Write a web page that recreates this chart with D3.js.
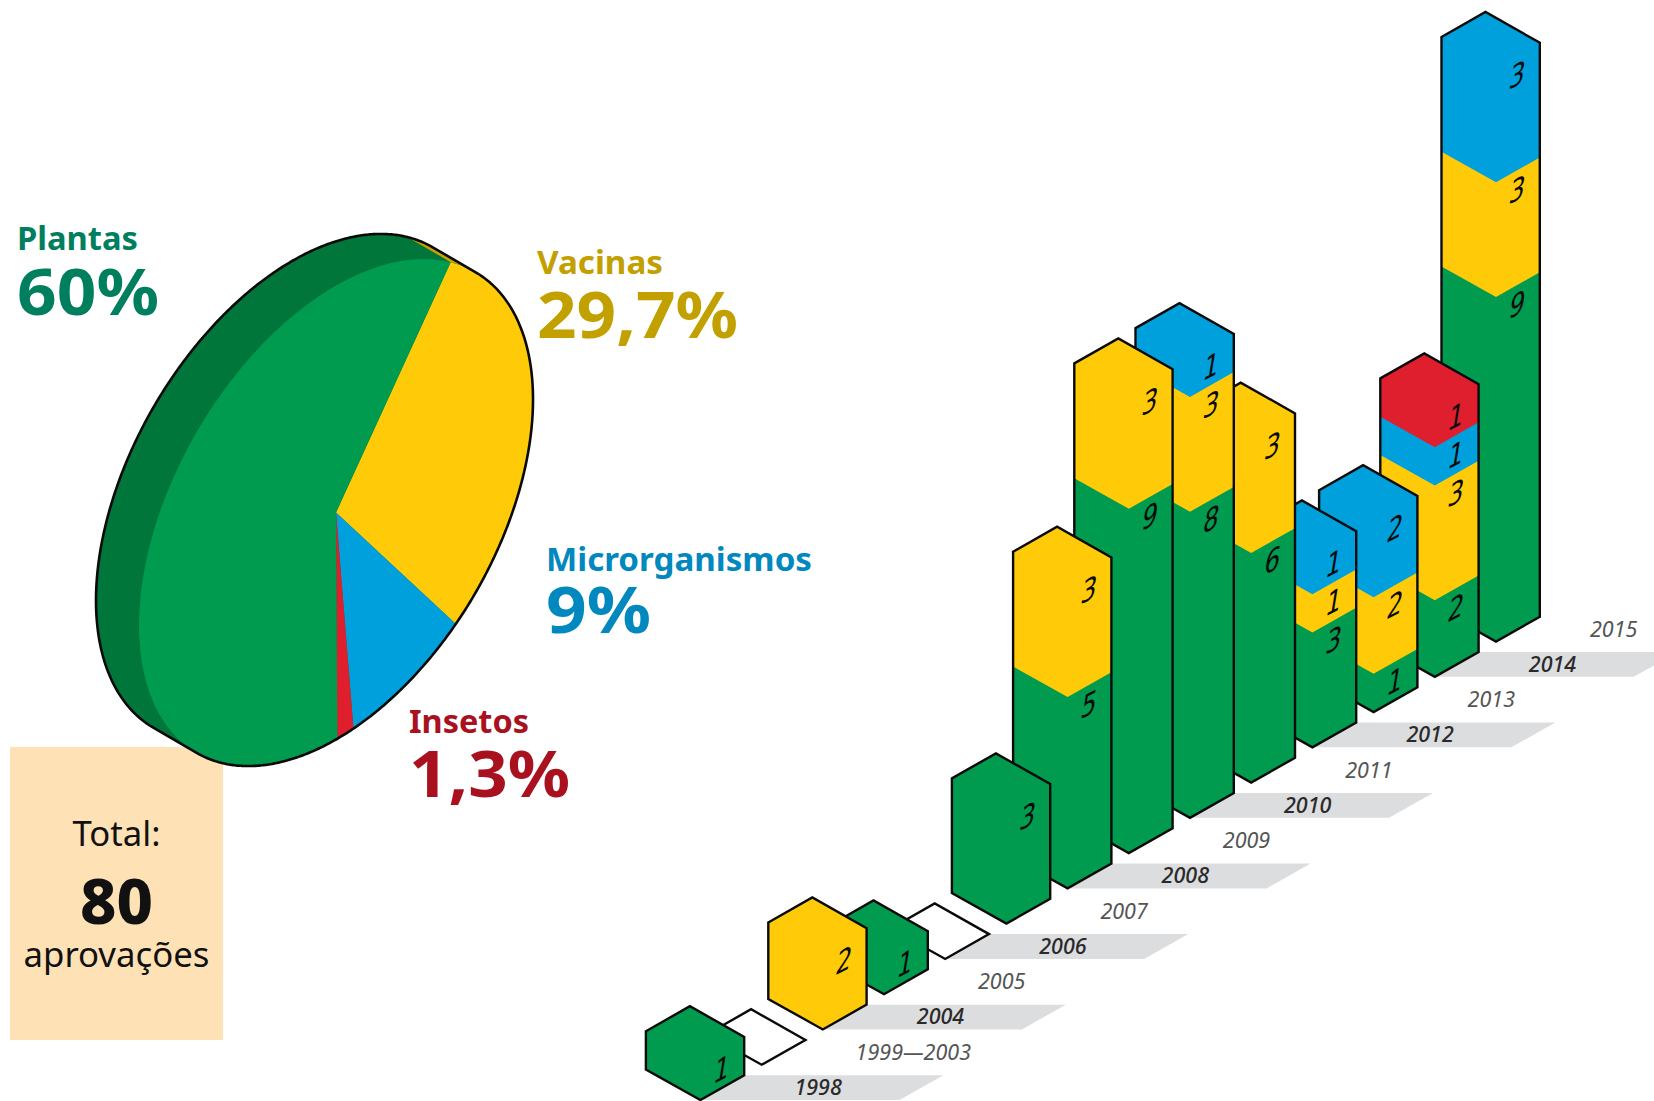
<!DOCTYPE html>
<html lang="pt">
<head>
<meta charset="utf-8">
<title>Aprovações por ano e por tipo</title>
<script src="https://cdnjs.cloudflare.com/ajax/libs/d3/7.8.5/d3.min.js"></script>
<style>
  html, body { margin: 0; padding: 0; background: #fff; }
  svg { display: block; }
  text { font-family: "Noto Sans", sans-serif; }
</style>
</head>
<body>
<svg id="chart" width="1654" height="1101"></svg>
<script>
// Approvals per period, stacked bottom to top
const periods = ["1998","1999—2003","2004","2005","2006","2007","2008","2009","2010","2011","2012","2013","2014","2015"];
const plantas        = [1,0,0,1,0,3,5,9,8,6,3,1,2,9];
const vacinas        = [0,0,2,0,0,0,3,3,3,3,1,2,3,3];
const microrganismos = [0,0,0,0,0,0,0,0,1,0,1,2,1,3];
const insetos        = [0,0,0,0,0,0,0,0,0,0,0,0,1,0];

// Pie shares, in clockwise order
const shareNames  = ["Vacinas","Microrganismos","Insetos","Plantas"];
const shareValues = [29.7,9,1.3,60];
const shareLabels = ["29,7%","9%","1,3%","60%"];

const FILL = { plantas:"#009b4e", vacinas:"#ffcb08", microrganismos:"#00a0dc", insetos:"#e01f2e" };
const stackKeys = ["plantas","vacinas","microrganismos","insetos"];
const stackSeries = { plantas, vacinas, microrganismos, insetos };

const svg = d3.select("#chart");
const OUTLINE = "#0a0a0a";

/* ---------- isometric bars ---------- */
const xPos = d3.scaleLinear().domain([0, periods.length - 1]).range([700.4, 1496]);
const yPos = d3.scaleLinear().domain([0, periods.length - 1]).range([1100, 641.5]);
const rise = d3.scaleLinear().domain([0, 15]).range([0, 574]);

// Offsets of the hexagon's corners from its front corner
const cornerL = [-54.5, -30.5], cornerR = [43.8, -24.8], cornerT = [-10.5, -55.5];

const rows = periods.map((p, i) => {
  let acc = 0;
  const segments = stackKeys.filter(k => stackSeries[k][i] > 0).map(k => {
    const v = stackSeries[k][i];
    const s = { key: k, value: v, from: acc, to: acc + v };
    acc += v;
    return s;
  });
  return { period: p, i, x: xPos(i), y: yPos(i), total: acc, segments };
});

const pts = a => a.map(p => p.join(",")).join(" ");
const stripG = svg.append("g").attr("class", "strips");
const labelG = svg.append("g").attr("class", "period-labels");
const barG = svg.append("g").attr("class", "bars");

// Grey bands sit under every other period
rows.filter(r => r.i % 2 === 0).forEach(r => {
  stripG.append("polygon")
    .attr("fill", "#dcddde")
    .attr("points", pts([
      [r.x + cornerR[0], r.y + cornerR[1]],
      [r.x + 243, r.y + cornerR[1]],
      [r.x + 199, r.y],
      [r.x, r.y]
    ]));
});

rows.forEach(r => {
  labelG.append("text")
    .attr("x", r.x + 94)
    .attr("y", r.y - 5)
    .attr("font-size", 21.5)
    .attr("font-style", "italic")
    .attr("font-weight", r.i % 2 === 0 ? 500 : 400)
    .attr("fill", r.i % 2 === 0 ? "#2a2a2a" : "#555")
    .text(r.period);
});

// Painted from the far end so nearer bars overlap the ones behind them
rows.slice().reverse().forEach(r => {
  const g = barG.append("g").attr("class", "bar");
  const hexAt = (h0, h1) => {
    const y0 = r.y - rise(h0), y1 = r.y - rise(h1);
    return [
      [r.x + cornerL[0], y1 + cornerL[1]],
      [r.x + cornerT[0], y1 + cornerT[1]],
      [r.x + cornerR[0], y1 + cornerR[1]],
      [r.x + cornerR[0], y0 + cornerR[1]],
      [r.x, y0],
      [r.x + cornerL[0], y0 + cornerL[1]]
    ];
  };
  if (r.total === 0) {
    g.append("polygon").attr("points", pts([
      [r.x + cornerL[0], r.y + cornerL[1]],
      [r.x + cornerT[0], r.y + cornerT[1]],
      [r.x + cornerR[0], r.y + cornerR[1]],
      [r.x, r.y]
    ])).attr("fill", "#fff").attr("stroke", OUTLINE).attr("stroke-width", 2.4).attr("stroke-linejoin", "miter");
    return;
  }
  r.segments.forEach(s => {
    g.append("polygon").attr("points", pts(hexAt(s.from, s.to))).attr("fill", FILL[s.key]);
  });
  g.append("polygon").attr("points", pts(hexAt(0, r.total)))
    .attr("fill", "none").attr("stroke", OUTLINE).attr("stroke-width", 2.4).attr("stroke-linejoin", "miter");
  r.segments.forEach(s => {
    const px = r.x + 21.5, py = r.y - rise(s.to) + 7;
    g.append("text")
      .attr("transform", `translate(${px},${py}) skewY(-27) skewX(-10) scale(0.82,1)`)
      .attr("text-anchor", "middle")
      .attr("dy", "0.36em")
      .attr("font-size", 30)
      .style("font-family", "'DejaVu Sans', sans-serif")
      .attr("fill", "#0a0a0a")
      .text(s.value);
  });
});

/* ---------- total box ---------- */
const box = svg.insert("g", ":first-child").attr("class", "total");
box.append("rect").attr("x", 10).attr("y", 747).attr("width", 213).attr("height", 293).attr("fill", "#fee2b6");
const centreText = (t, y, size, weight, len) => box.append("text")
  .attr("x", 116.5).attr("y", y).attr("text-anchor", "middle")
  .attr("font-size", size).attr("font-weight", weight).attr("fill", "#111")
  .attr("textLength", len).attr("lengthAdjust", "spacingAndGlyphs").text(t);
centreText("Total:", 846, 34, 400, 88);
centreText("80", 924, 63, 800, 73);
centreText("aprovações", 967, 34, 400, 186);

/* ---------- pie on an isometric plane ---------- */
const centre = [336, 512.5];
const radius = 226;
const axisU = [197, -113], axisV = [0, 227];   // images of the circle's unit axes
const depth = [-43, -25];
const startDeg = 35.6;                         // first slice, clockwise from 12 o'clock

const project = (angle, off = [0, 0]) => {
  const c = Math.sin(angle), s = -Math.cos(angle);
  return [centre[0] + c * axisU[0] + s * axisV[0] + off[0],
          centre[1] + c * axisU[1] + s * axisV[1] + off[1]];
};
const tau = 2 * Math.PI;
const a0 = startDeg * Math.PI / 180;
const pie = d3.pie().sort(null).startAngle(a0).endAngle(a0 + tau);
const arcs = pie(shareValues);
const pieFill = { Vacinas: FILL.vacinas, Microrganismos: FILL.microrganismos, Insetos: FILL.insetos, Plantas: FILL.plantas };

const pieG = svg.append("g").attr("class", "pie");
const ring = d3.range(0, 720).map(k => k / 720 * tau);
const hull = d3.polygonHull(ring.map(a => project(a)).concat(ring.map(a => project(a, depth))));
const closed = d3.line().curve(d3.curveLinearClosed);

pieG.append("path").attr("d", closed(hull)).attr("fill", "#00763a");

// Sliver of the yellow slice's edge visible where the rim turns away
const rimEnd = (startDeg + 9.4) * Math.PI / 180;
const rimArc = d3.range(0, 13).map(k => a0 + (rimEnd - a0) * k / 12);
pieG.append("path")
  .attr("d", closed(rimArc.map(a => project(a)).concat(rimArc.slice().reverse().map(a => project(a, depth)))))
  .attr("fill", "#c9a400");

const arcGen = d3.arc().innerRadius(0).outerRadius(radius);
pieG.append("g")
  .attr("transform", `matrix(${axisU[0]/radius},${axisU[1]/radius},${axisV[0]/radius},${axisV[1]/radius},${centre[0]},${centre[1]})`)
  .selectAll("path").data(arcs).join("path")
  .attr("d", arcGen)
  .attr("fill", (d, i) => pieFill[shareNames[i]]);

pieG.append("path").attr("d", closed(hull)).attr("fill", "none")
  .attr("stroke", OUTLINE).attr("stroke-width", 2.6).attr("stroke-linejoin", "round");

/* ---------- pie labels ---------- */
const placement = [
  { x: 537, yName: 274, yPct: 337.5, wName: 126, wPct: 201, color: "#c2a000" },
  { x: 546, yName: 570.5, yPct: 633, wName: 266, wPct: 105, color: "#0088bf" },
  { x: 409, yName: 733, yPct: 796.5, wName: 120, wPct: 161, color: "#a9111f" },
  { x: 17, yName: 250, yPct: 315, wName: 121, wPct: 142, color: "#007f5f" }
];
const labels = svg.append("g").attr("class", "pie-labels");
shareNames.forEach((name, i) => {
  const p = placement[i];
  labels.append("text").attr("x", p.x).attr("y", p.yName)
    .attr("font-size", 33).attr("font-weight", 700).attr("fill", p.color)
    .attr("textLength", p.wName).attr("lengthAdjust", "spacingAndGlyphs").text(name);
  labels.append("text").attr("x", p.x).attr("y", p.yPct)
    .attr("font-size", 64).attr("font-weight", 700).attr("fill", p.color)
    .attr("textLength", p.wPct).attr("lengthAdjust", "spacingAndGlyphs").text(shareLabels[i]);
});
</script>
</body>
</html>
